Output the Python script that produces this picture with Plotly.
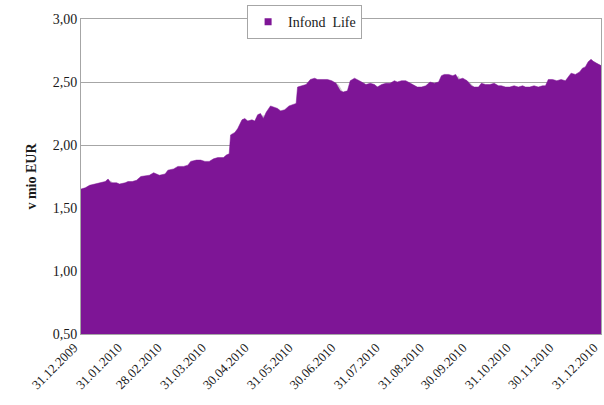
import plotly.graph_objects as go
import pandas as pd

series_name = "Infond\u00a0\u00a0Life"

dates = [
    "2009-12-31", "2010-01-03", "2010-01-06", "2010-01-10", "2010-01-13", "2010-01-17", "2010-01-19",
    "2010-01-21", "2010-01-25", "2010-01-27", "2010-01-31", "2010-02-02", "2010-02-05", "2010-02-08",
    "2010-02-11", "2010-02-15", "2010-02-17", "2010-02-20", "2010-02-22", "2010-02-24", "2010-02-28",
    "2010-03-02", "2010-03-06", "2010-03-09", "2010-03-13", "2010-03-16", "2010-03-18", "2010-03-22",
    "2010-03-25", "2010-03-28", "2010-03-31", "2010-04-03", "2010-04-06", "2010-04-10", "2010-04-12",
    "2010-04-14", "2010-04-15", "2010-04-18", "2010-04-20", "2010-04-23", "2010-04-25", "2010-04-27",
    "2010-04-30", "2010-05-02", "2010-05-04", "2010-05-06", "2010-05-08", "2010-05-10", "2010-05-13",
    "2010-05-15", "2010-05-18", "2010-05-20", "2010-05-23", "2010-05-26", "2010-05-29", "2010-05-31",
    "2010-06-01", "2010-06-04", "2010-06-07", "2010-06-10", "2010-06-13", "2010-06-15", "2010-06-18",
    "2010-06-22", "2010-06-25", "2010-06-28", "2010-07-01", "2010-07-03", "2010-07-06", "2010-07-08",
    "2010-07-11", "2010-07-13", "2010-07-16", "2010-07-19", "2010-07-22", "2010-07-25", "2010-07-27",
    "2010-07-30", "2010-08-02", "2010-08-05", "2010-08-08", "2010-08-10", "2010-08-13", "2010-08-16",
    "2010-08-19", "2010-08-22", "2010-08-24", "2010-08-27", "2010-08-30", "2010-09-02", "2010-09-05",
    "2010-09-08", "2010-09-10", "2010-09-12", "2010-09-15", "2010-09-18", "2010-09-20", "2010-09-22",
    "2010-09-25", "2010-09-28", "2010-10-01", "2010-10-03", "2010-10-06", "2010-10-08", "2010-10-11",
    "2010-10-14", "2010-10-17", "2010-10-20", "2010-10-22", "2010-10-25", "2010-10-28", "2010-10-31",
    "2010-11-03", "2010-11-06", "2010-11-08", "2010-11-11", "2010-11-14", "2010-11-17", "2010-11-20",
    "2010-11-22", "2010-11-24", "2010-11-27", "2010-11-30", "2010-12-03", "2010-12-06", "2010-12-08",
    "2010-12-10", "2010-12-13", "2010-12-16", "2010-12-18", "2010-12-20", "2010-12-22", "2010-12-24",
    "2010-12-26", "2010-12-28", "2010-12-31",
]

values = [
    1.65, 1.66, 1.68, 1.69, 1.70, 1.71, 1.73,
    1.70, 1.70, 1.69, 1.70, 1.71, 1.71, 1.72,
    1.75, 1.76, 1.76, 1.78, 1.77, 1.76, 1.77,
    1.80, 1.81, 1.83, 1.83, 1.84, 1.87, 1.88,
    1.88, 1.87, 1.87, 1.89, 1.90, 1.90, 1.92,
    1.93, 2.08, 2.10, 2.13, 2.20, 2.21, 2.19,
    2.20, 2.19, 2.24, 2.25, 2.21, 2.26, 2.31,
    2.30, 2.29, 2.27, 2.28, 2.31, 2.32, 2.33,
    2.46, 2.47, 2.48, 2.52, 2.53, 2.52, 2.52,
    2.52, 2.51, 2.49, 2.43, 2.42, 2.43, 2.51,
    2.53, 2.52, 2.50, 2.48, 2.49, 2.48, 2.46,
    2.48, 2.49, 2.49, 2.51, 2.50, 2.51, 2.51,
    2.49, 2.47, 2.46, 2.46, 2.47, 2.50, 2.49,
    2.50, 2.55, 2.56, 2.56, 2.55, 2.56, 2.52,
    2.53, 2.51, 2.47, 2.46, 2.46, 2.49, 2.48,
    2.48, 2.49, 2.47, 2.47, 2.46, 2.46, 2.47,
    2.46, 2.47, 2.46, 2.46, 2.47, 2.46, 2.47,
    2.47, 2.52, 2.52, 2.51, 2.52, 2.51, 2.54,
    2.57, 2.56, 2.58, 2.61, 2.62, 2.66, 2.68,
    2.66, 2.65, 2.63,
]

tick_dates = ["2009-12-31", "2010-01-31", "2010-02-28", "2010-03-31", "2010-04-30", "2010-05-31",
              "2010-06-30", "2010-07-31", "2010-08-31", "2010-09-30", "2010-10-31", "2010-11-30",
              "2010-12-31"]
tick_labels = ["31.12.2009", "31.01.2010", "28.02.2010", "31.03.2010", "30.04.2010", "31.05.2010",
               "30.06.2010", "31.07.2010", "31.08.2010", "30.09.2010", "31.10.2010", "30.11.2010",
               "31.12.2010"]
y_ticks = [0.5, 1.0, 1.5, 2.0, 2.5, 3.0]

purple = "#7e1596"
x = pd.to_datetime(dates)
shadow_x = x + pd.Timedelta(days=2)
shadow_y = [v - 0.012 for v in values]

fig = go.Figure()
fig.add_trace(go.Scatter(x=shadow_x, y=shadow_y, mode="lines", line=dict(width=0, color="#c8c8c8"),
                         fill="tozeroy", fillcolor="rgba(170,170,170,0.55)", showlegend=False,
                         hoverinfo="skip"))
fig.add_trace(go.Scatter(x=x, y=values, name=series_name, mode="lines", showlegend=False,
                         line=dict(width=0.5, color=purple), fill="tozeroy", fillcolor=purple))
# legend entry with a small square symbol
fig.add_trace(go.Scatter(x=[None], y=[None], name=series_name, mode="markers",
                         marker=dict(symbol="square", size=7, color=purple), showlegend=True))

font = "Liberation Serif"
fig.update_layout(
    width=604, height=405,
    margin=dict(l=81, r=3, t=19, b=71),
    paper_bgcolor="white", plot_bgcolor="white",
    separators=",.",
    font=dict(family=font, size=13, color="#1a1a1a"),
    showlegend=True,
    legend=dict(x=0.43, y=0.99, xanchor="center", yanchor="middle", orientation="h",
                bgcolor="white", bordercolor="#a6a6a6", borderwidth=1,
                font=dict(family=font, size=14, color="#1a1a1a"), itemwidth=30,
                tracegroupgap=0),
)
fig.update_xaxes(range=["2009-12-31", "2010-12-31"], tickvals=tick_dates, ticktext=tick_labels,
                 tickangle=-45, showgrid=False, showline=True, linecolor="#a6a6a6", mirror=True,
                 ticks="", tickfont=dict(family=font, size=13), automargin=False,
                 ticklabeloverflow="allow", ticklabelshift=-7)
fig.update_yaxes(range=[0.5, 3.0], tickvals=y_ticks, tickformat=".2f", showgrid=True,
                 gridcolor="#a6a6a6", gridwidth=1, showline=True, linecolor="#a6a6a6", mirror=True,
                 ticks="", tickfont=dict(family=font, size=14), zeroline=False, automargin=False,
                 title=dict(text="<b>v mio EUR</b>", font=dict(family=font, size=14), standoff=12))

fig.write_html("out.html", config={"displayModeBar": False},
               post_script="document.body.style.margin='0';document.body.style.overflow='hidden';")
